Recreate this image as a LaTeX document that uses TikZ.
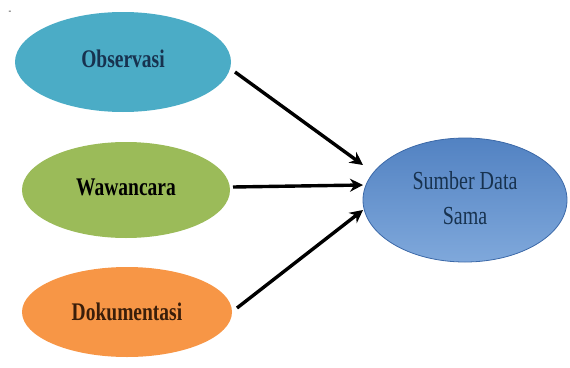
\documentclass[tikz,border=0pt]{standalone}
\usepackage{fontspec}
\setmainfont{Liberation Serif}
\usetikzlibrary{shapes.geometric,arrows.meta}
\definecolor{obsc}{HTML}{4BACC6}
\definecolor{wawc}{HTML}{9BBB59}
\definecolor{dokc}{HTML}{F79646}
\definecolor{sumtop}{HTML}{5282C2}
\definecolor{sumbot}{HTML}{7FA8DB}
\definecolor{sumline}{HTML}{3C69A8}
\definecolor{navytxt}{HTML}{17324F}
\definecolor{browntxt}{HTML}{3A1E0A}
\newcommand{\tallbox}[1]{\scalebox{1}[1.3]{#1}}
\tikzset{
  blob/.style={ellipse, inner sep=0pt, outer sep=0pt, align=center},
  lbl/.style={font=\fontsize{19.5}{22}\selectfont\bfseries},
  conn/.style={line width=3.4pt, -{Stealth[length=13pt,width=13pt]}},
}
\begin{document}
\begin{tikzpicture}[x=1pt,y=-1pt]
\useasboundingbox (0,0) rectangle (570,367);
\node[font=\fontsize{8}{8}\selectfont] (dash) at (10,12) {-};
\node[blob, fill=obsc, minimum width=216pt, minimum height=100pt, lbl, text=navytxt] (obs) at (123,62) {\raisebox{6pt}{\tallbox{Observasi}}};
\node[blob, fill=wawc, minimum width=208pt, minimum height=96pt, lbl, text=black] (waw) at (126,190) {\raisebox{5pt}{\tallbox{Wawancara}}};
\node[blob, fill=dokc, minimum width=210pt, minimum height=90pt, lbl, text=browntxt] (dok) at (127,312) {\tallbox{Dokumentasi}};
\node[blob, top color=sumtop, bottom color=sumbot, draw=sumline, line width=0.8pt, minimum width=204pt, minimum height=124pt, text=navytxt, font=\fontsize{20}{27}\selectfont] (sum) at (465,200) {\tallbox{\begin{tabular}{@{}c@{}}Sumber Data\\[0pt]Sama\end{tabular}}};
\draw[conn] ([xshift=4pt,yshift=-10pt]obs.east) -- ([yshift=35pt]sum.west);
\draw[conn] ([xshift=3pt,yshift=3pt]waw.east) -- ([yshift=15pt]sum.west);
\draw[conn] ([xshift=5pt,yshift=4pt]dok.east) -- ([yshift=-10pt]sum.west);
\end{tikzpicture}
\end{document}
